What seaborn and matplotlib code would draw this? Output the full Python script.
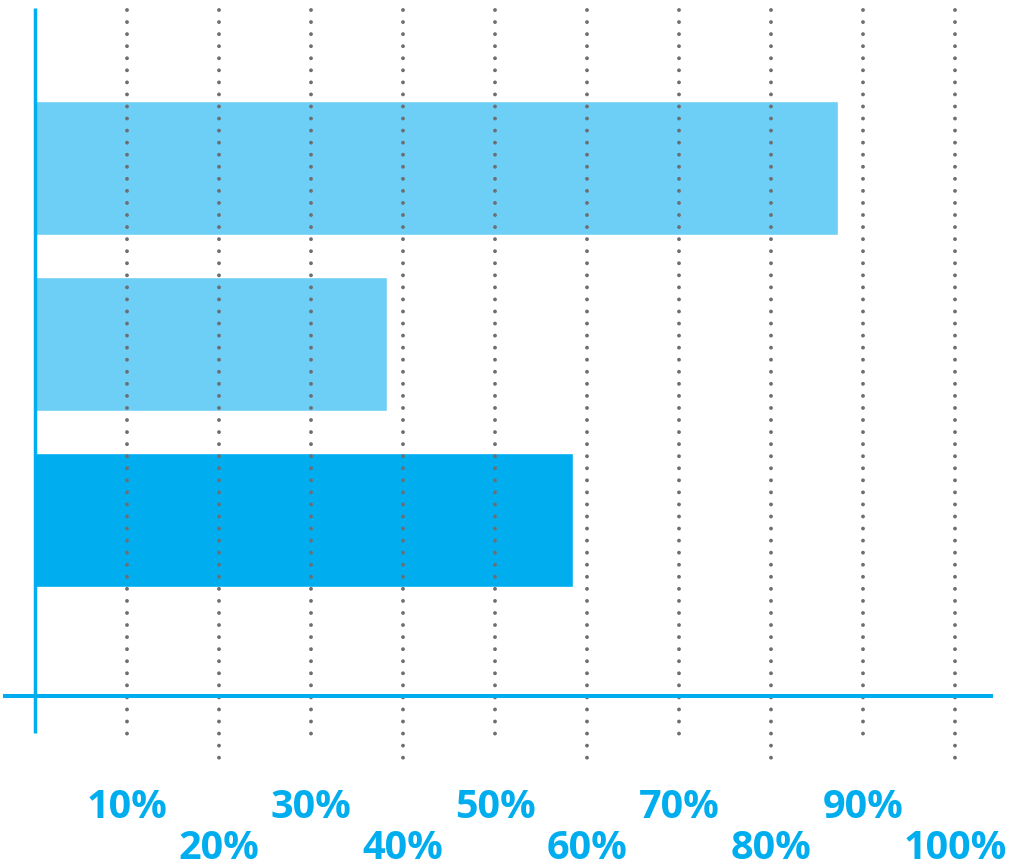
import matplotlib
matplotlib.use("Agg")
import matplotlib.pyplot as plt
import seaborn as sns
import pandas as pd

categories = ["Bar 1", "Bar 2", "Bar 3"]
values = [87.3, 38.3, 58.5]
bar_colors = ["#6dcff6", "#6dcff6", "#00aeef"]
tick_values = [10, 20, 30, 40, 50, 60, 70, 80, 90, 100]
tick_labels = ["10%", "20%", "30%", "40%", "50%", "60%", "70%", "80%", "90%", "100%"]

sns.set_theme(style="white")
plt.rcParams['font.family'] = ['Open Sans', 'DejaVu Sans']

W, H = 1011, 867
fig = plt.figure(figsize=(W / 100, H / 100), dpi=100)
ax = fig.add_axes([35 / W, (H - 696) / H, 920 / W, 688 / H])

df = pd.DataFrame({"cat": categories, "val": values})
sns.barplot(data=df, x="val", y="cat", hue="cat", palette=bar_colors,
            order=categories, width=0.76, legend=False, ax=ax,
            saturation=1, zorder=1)

ax.set_xlim(0, 100)
ax.set_ylim(3, -0.909)
for s in ax.spines.values():
    s.set_visible(False)
ax.set_xticks([])
ax.set_yticks([])
ax.set_xlabel("")
ax.set_ylabel("")

blue = "#00aeef"
grey = "#6d6e71"

# dotted gridlines, drawn above bars
for i, t in enumerate(tick_values):
    bottom = 3.216 if i % 2 == 0 else 3.364
    ax.plot([t, t], [-0.895, bottom], color=grey, lw=2.8,
            linestyle=(0, (0.001, 3.1)), dash_capstyle="round",
            clip_on=False, zorder=5)

# axis lines
ax.plot([-3.48, 104.1], [3, 3], color=blue, lw=2.9, clip_on=False,
        solid_capstyle="butt", zorder=6)
ax.plot([0, 0], [-0.909, 3.21], color=blue, lw=2.5, clip_on=False,
        solid_capstyle="butt", zorder=6)

# staggered labels
for i, (t, lab) in enumerate(zip(tick_values, tick_labels)):
    y = 3.636 if i % 2 == 0 else 3.864
    ax.text(t, y, lab, ha="center", va="center", color=blue,
            fontsize=28.5, fontweight="bold", clip_on=False)

fig.savefig("out.png", dpi=100)
